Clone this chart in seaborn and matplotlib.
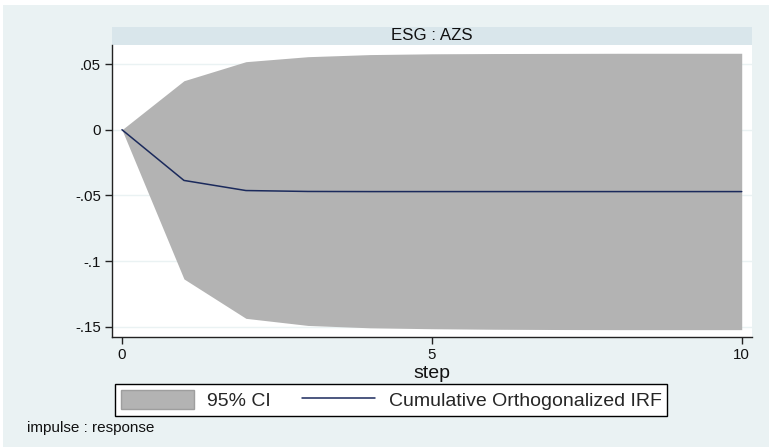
import matplotlib
matplotlib.use("Agg")
import matplotlib.pyplot as plt
import seaborn as sns
import pandas as pd
from matplotlib.patches import Rectangle, Patch
from matplotlib.lines import Line2D

# ---- data ----
steps = [0, 1, 2, 3, 4, 5, 6, 7, 8, 9, 10]
irf = [0.0, -0.0386, -0.0463, -0.0470, -0.0471, -0.0471, -0.0471, -0.0471, -0.0471, -0.0471, -0.0471]
ci_lower = [0.0, -0.1136, -0.1436, -0.1490, -0.1508, -0.1515, -0.1519, -0.1521, -0.1522, -0.1522, -0.1522]
ci_upper = [0.0, 0.0373, 0.0518, 0.0556, 0.0572, 0.0578, 0.0580, 0.0581, 0.0582, 0.0582, 0.0582]
ytick_vals = [-0.15, -0.1, -0.05, 0, 0.05]
ytick_labels = ["-.15", "-.1", "-.05", "0", ".05"]
xtick_vals = [0, 5, 10]
panel_title = "ESG : AZS"
legend_labels = ["95% CI", "Cumulative Orthogonalized IRF"]
note_text = "impulse : response"

df = pd.DataFrame({"step": steps, "irf": irf, "lo": ci_lower, "hi": ci_upper})

sns.set_style("white")
plt.rcParams["font.family"] = ["Liberation Sans", "DejaVu Sans"]

W, H = 769, 448
fig = plt.figure(figsize=(W / 100, H / 100), dpi=100, facecolor="white")

# outer graph region
fig.patches.append(Rectangle((3 / W, 1 - 447 / H), 1 - 3 / W, (447 - 5) / H,
                             transform=fig.transFigure, facecolor="#EAF2F3",
                             edgecolor="none", zorder=-2))
# strip header
fig.patches.append(Rectangle((112 / W, 1 - 45 / H), (752 - 112) / W, 18 / H,
                             transform=fig.transFigure, facecolor="#D9E6EB",
                             edgecolor="none", zorder=-1))
fig.text(432 / W, 1 - 36 / H, panel_title, ha="center", va="center",
         fontsize=12.2, color="#111111")

ax = fig.add_axes([112 / W, 1 - 337 / H, (752 - 112) / W, (337 - 45) / H])
ax.set_facecolor("white")

ax.fill_between(df["step"], df["lo"], df["hi"], color="#B3B3B3", lw=0, zorder=2)
sns.lineplot(data=df, x="step", y="irf", ax=ax, color="#1B2A5C", lw=1.1, zorder=3)

ax.set_xlim(-0.161, 10.166)
ax.set_ylim(-0.1578, 0.0645)
ax.set_yticks(ytick_vals)
ax.set_yticklabels(ytick_labels)
ax.set_xticks(xtick_vals)
ax.set_xticklabels([str(v) for v in xtick_vals])
ax.yaxis.grid(True, color="#EAF2F3", lw=1)
ax.xaxis.grid(False)
ax.set_axisbelow(True)

for s in ["top", "right"]:
    ax.spines[s].set_visible(False)
for s in ["left", "bottom"]:
    ax.spines[s].set_color("#222222")
    ax.spines[s].set_linewidth(1.0)

ax.tick_params(axis="both", direction="out", length=5, width=1, color="#222222",
               labelsize=10.8, labelcolor="#111111", pad=3)
ax.tick_params(axis="y", left=True)
ax.tick_params(axis="x", bottom=True)
ax.set_xlabel("step", fontsize=14, labelpad=2, color="#111111")
ax.set_ylabel("")

handles = [Patch(facecolor="#B3B3B3", edgecolor="#9E9E9E", lw=1),
           Line2D([0], [0], color="#1B2A5C", lw=1.1)]
leg = fig.legend(handles, legend_labels, loc="center",
                 bbox_to_anchor=(391 / W, 1 - 400 / H), ncol=2, frameon=True,
                 fancybox=False, edgecolor="black", framealpha=1, fontsize=14,
                 handlelength=3.75, handleheight=1.1, columnspacing=1.6,
                 handletextpad=0.7, borderpad=0.3, borderaxespad=0)
leg.get_frame().set_linewidth(1.0)

fig.text(27 / W, 1 - 428 / H, note_text, fontsize=11, va="center", ha="left",
         color="#111111")

fig.savefig("out.png", dpi=100, facecolor="white")
